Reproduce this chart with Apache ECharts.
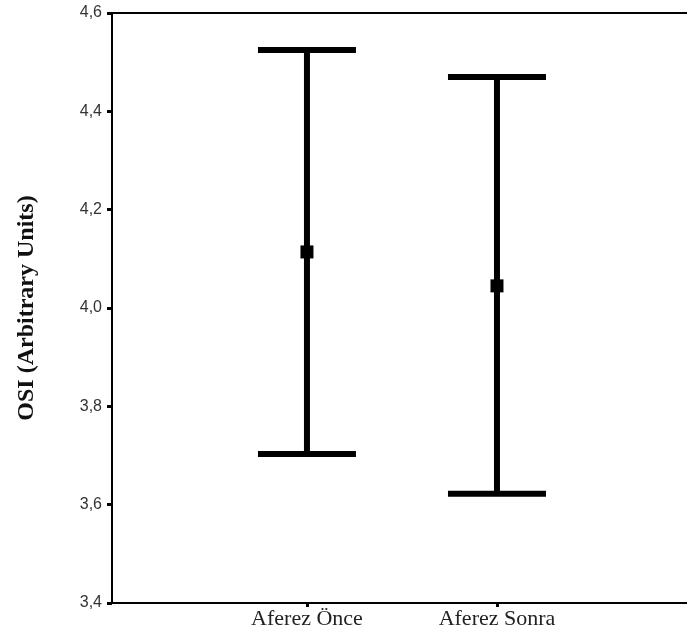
<!DOCTYPE html>
<html><head><meta charset="utf-8">
<script src="https://cdn.jsdelivr.net/npm/echarts@6/dist/echarts.min.js"></script>
<style>html,body{margin:0;padding:0;background:#fff}#c{width:687px;height:644px}</style>
</head><body><div id="c"></div>
<script>
const categories = ['Aferez Önce', 'Aferez Sonra'];
const categoryPositions = [1, 2];
const means = [4.114, 4.045];
const lowers = [3.703, 3.622];
const uppers = [4.525, 4.470];
const yTicks = [3.4, 3.6, 3.8, 4.0, 4.2, 4.4, 4.6];

const data = categories.map((c, i) => [categoryPositions[i], means[i], lowers[i], uppers[i]]);

const chart = echarts.init(document.getElementById('c'));
chart.setOption({
  animation: false,
  grid: { left: 112, right: 0, top: 13, bottom: 41 },
  xAxis: [{
    type: 'value', min: -0.026, max: 3,
    axisLine: { onZero: false, lineStyle: { color: '#000', width: 2 } },
    axisTick: { show: true, length: 4, customValues: categoryPositions, lineStyle: { color: '#000', width: 3 } },
    splitLine: { show: false },
    axisLabel: {
      customValues: categoryPositions,
      fontFamily: 'Liberation Serif', fontSize: 22, color: '#222', margin: 5,
      formatter: v => categories[categoryPositions.indexOf(v)] || ''
    }
  }, {
    type: 'value', min: -0.026, max: 3, position: 'top',
    axisLine: { show: true, onZero: false, lineStyle: { color: '#000', width: 2 } },
    axisTick: { show: false }, axisLabel: { show: false }, splitLine: { show: false }
  }],
  yAxis: {
    type: 'value', min: 3.4, max: 4.6, interval: 0.2,
    name: 'OSI (Arbitrary Units)', nameLocation: 'middle', nameGap: 73,
    nameTextStyle: { fontFamily: 'Liberation Serif', fontWeight: 'bold', fontSize: 24, color: '#111' },
    axisLine: { show: true, onZero: false, lineStyle: { color: '#000', width: 2 } },
    axisTick: { show: true, length: 5, lineStyle: { color: '#000', width: 3 } },
    splitLine: { show: false },
    axisLabel: {
      fontFamily: 'Liberation Sans', fontSize: 16, color: '#333', margin: 10,
      formatter: v => yTicks.find(t => Math.abs(t - v) < 1e-6).toFixed(1).replace('.', ',')
    }
  },
  series: [{
    type: 'custom',
    data: data,
    renderItem: (params, api) => {
      const x = api.value(0);
      const pm = api.coord([x, api.value(1)]);
      const pl = api.coord([x, api.value(2)]);
      const pu = api.coord([x, api.value(3)]);
      const hw = 49;
      const st = { stroke: '#000', lineWidth: 6 };
      return {
        type: 'group',
        children: [
          { type: 'line', shape: { x1: pu[0], y1: pu[1], x2: pl[0], y2: pl[1] }, style: st },
          { type: 'line', shape: { x1: pu[0] - hw, y1: pu[1], x2: pu[0] + hw, y2: pu[1] }, style: st },
          { type: 'line', shape: { x1: pl[0] - hw, y1: pl[1], x2: pl[0] + hw, y2: pl[1] }, style: st },
          { type: 'rect', shape: { x: pm[0] - 6.5, y: pm[1] - 6.5, width: 13, height: 13 }, style: { fill: '#000' } }
        ]
      };
    }
  }]
});
</script></body></html>
